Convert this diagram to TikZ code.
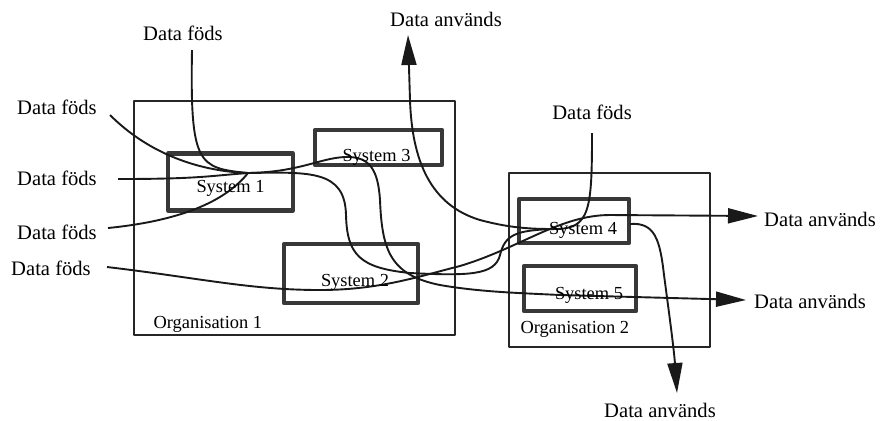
\documentclass[tikz,border=0pt]{standalone}
\usepackage{fontspec}
\setmainfont{Liberation Serif}
\usetikzlibrary{arrows.meta,positioning}

\begin{document}
\begin{tikzpicture}[x=0.5pt, y=-0.5pt, line join=round]
      \tikzstyle{org} = [draw=black!85, line width=0.8pt, inner sep=0pt]
      \tikzstyle{sys} = [draw=black!78, line width=2.1pt, inner sep=0pt]
      \tikzstyle{word} = [font=\fontsize{10.3}{12}\selectfont, inner sep=2pt]
      \tikzstyle{sysname} = [font=\fontsize{9.2}{11}\selectfont, inner sep=1pt]
      \tikzstyle{flow} = [draw=black!90, line width=0.95pt]
      \tikzstyle{use} = [flow, -{Triangle[length=15pt,width=7.5pt]}]
      \useasboundingbox (0,0) rectangle (882,420);
      % organisations and systems
      \node (Org1) [org, minimum width=160.5pt, minimum height=117pt] at (294.5,218) {};
      \node (Org2) [org, minimum width=100.5pt, minimum height=87pt] at (609.5,260) {};
      \node (Sys1) [sys, minimum width=62.5pt, minimum height=28.5pt] at (230.5,182) {};
      \node (Sys3) [sys, minimum width=63.5pt, minimum height=17.5pt] at (378.5,147.5) {};
      \node (Sys2) [sys, minimum width=67pt, minimum height=29.5pt] at (351,273.5) {};
      \node (Sys4) [sys, minimum width=55pt, minimum height=22pt] at (574,221) {};
      \node (Sys5) [sys, minimum width=56pt, minimum height=22.5pt] at (580,288.5) {};
      \node [sysname] at (Org1.south west) [above right=0.5pt and 9pt] {Organisation 1};
      \node [sysname] at (Org2.south west) [above right=4pt and 5pt] {Organisation 2};
      % sources and sinks
      \node (born1) [word] at (57,107) {Data föds};
      \node (born2) [word] at (183,33) {Data föds};
      \node (born3) [word] at (57,178) {Data föds};
      \node (born4) [word] at (57,232) {Data föds};
      \node (born5) [word] at (51,268) {Data föds};
      \node (born6) [word] at (592,112) {Data föds};
      \node (used1) [word] at (446,19) {Data används};
      \node (used2) [word] at (820,219) {Data används};
      \node (used3) [word] at (810,301) {Data används};
      \node (used4) [word] at (660,410) {Data används};
      \coordinate (b1) at (110,115);
      \coordinate (b2) at (192,50);
      \coordinate (b3) at (118,179);
      \coordinate (b4) at (108,228);
      \coordinate (b5) at (107,267);
      \coordinate (b6) at (592,133);
      \coordinate (u1) at (408,35);
      \coordinate (u2) at (758,216);
      \coordinate (u3) at (746,300);
      \coordinate (u4) at (677,393);
      \coordinate (hub1) at (248,173);
      \coordinate (hub4) at (555,229);
      % data into System 1
      \draw[flow] (b1) .. controls +(35,35) and +(-55,-2) .. (hub1);
      \draw[flow] (b2) .. controls +(-2,115) and +(-50,-5) .. (hub1);
      \draw[flow] (b3) .. controls +(80,0) and +(-40,3) .. (hub1);
      \draw[flow] (b4) .. controls +(80,-8) and +(-20,25) .. (hub1);
      % System 1 via System 3 to System 5
      \draw[use] (hub1) .. controls (300,172) and (320,158) .. (345,157)
        .. controls (370,156) and (378,170) .. (380,200)
        .. controls (382,250) and (390,275) .. (440,285)
        .. controls (480,292) and (520,293) .. (560,295) -- (u3);
      % System 1 down to System 4
      \draw[flow] (hub1) .. controls (310,172) and (345,170) .. (346,215)
        .. controls (347,255) and (360,268) .. (410,273)
        .. controls (470,276) and (495,275) .. (500,255)
        .. controls (505,235) and (515,230) .. (hub4);
      % System 2 to System 4
      \draw[use] (b5) .. controls (200,278) and (250,290) .. (320,290)
        .. controls (380,290) and (420,276) .. (460,266)
        .. controls (520,248) and (560,215) .. (610,215) -- (u2);
      \draw[flow] (b6) .. controls +(0,77) and +(35,0) .. (hub4);
      % out of System 4
      \draw[use] (hub4) .. controls (530,229) and (510,228) .. (480,220)
        .. controls (430,205) and (412,160) .. (410,100) -- (u1);
      \draw[use] (630,224) .. controls (655,222) and (660,240) .. (664,275)
        .. controls (670,320) and (674,350) .. (u4);
      % system names
      \node [sysname] at ([yshift=-3pt]Sys1.center) {System 1};
      \node [sysname] at ([xshift=-1pt,yshift=-5pt]Sys3.center) {System 3};
      \node [sysname] at ([xshift=2pt,yshift=-4.5pt]Sys2.center) {System 2};
      \node [sysname] at ([xshift=4.5pt,yshift=-4.5pt]Sys4.center) {System 4};
      \node [sysname] at ([xshift=4.5pt,yshift=-3.25pt]Sys5.center) {System 5};
    \end{tikzpicture}
\end{document}
